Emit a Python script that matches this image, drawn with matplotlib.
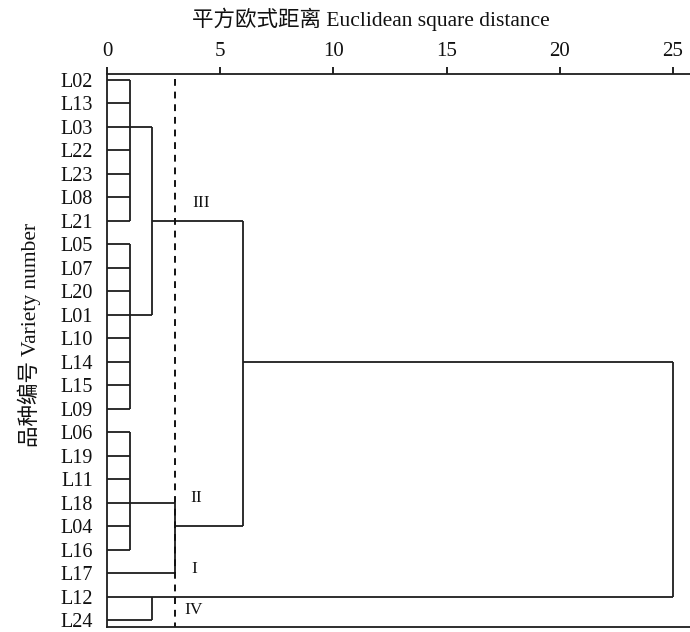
import matplotlib
matplotlib.use("Agg")
import matplotlib.pyplot as plt

plt.rcParams['font.family'] = ['Liberation Serif', 'Noto Sans CJK SC']

# leaves, top to bottom
leaf_labels = ["L02", "L13", "L03", "L22", "L23", "L08", "L21",
               "L05", "L07", "L20", "L01", "L10", "L14", "L15", "L09",
               "L06", "L19", "L11", "L18", "L04", "L16", "L17", "L12", "L24"]

# merges: members, height, row the link leaves from
merge_members = [
    ["L02", "L13", "L03", "L22", "L23", "L08", "L21"],
    ["L05", "L07", "L20", "L01", "L10", "L14", "L15", "L09"],
    ["L06", "L19", "L11", "L18", "L04", "L16"],
    ["m0", "m1"],
    ["m2", "L17"],
    ["m3", "m4"],
    ["L12", "L24"],
    ["m5", "m6"],
]
merge_height = [1, 1, 1, 2, 3, 6, 2, 25]
merge_exit = ["L03", "L01", "L18", "L21", "L04", "L14", "L12", None]

cut_distance = 3
group_names = ["III", "II", "I", "IV"]
x_ticks = [0, 5, 10, 15, 20, 25]

fig = plt.figure(figsize=(6.9, 6.32), dpi=100)
ax = fig.add_axes([107/690, 1-627/632, 1-107/690, (627-74)/632])

row = {name: i for i, name in enumerate(leaf_labels)}
node_row = dict(row)
node_h = {name: 0 for name in leaf_labels}

lc = "#1e1e1e"
lw = 1.3
for i, members in enumerate(merge_members):
    h = merge_height[i]
    ys = []
    for m in members:
        y = node_row[m]
        ax.plot([node_h[m], h], [y, y], color=lc, lw=lw, solid_capstyle='butt')
        ys.append(y)
    ax.plot([h, h], [min(ys), max(ys)], color=lc, lw=lw, solid_capstyle='butt')
    name = "m%d" % i
    node_h[name] = h
    if merge_exit[i] is not None:
        node_row[name] = row[merge_exit[i]]

# cut line
ax.plot([cut_distance, cut_distance], [-0.05, 23.3], color="#111111", lw=1.4,
        ls=(0, (3.5, 3)))

label_pos = [(4.15, 5.25), (3.92, 17.8), (3.87, 20.8), (3.84, 22.55)]
for name, (x, y) in zip(group_names, label_pos):
    ax.text(x, y, name, fontsize=12.5, ha='center', va='center', color="#111111")

ax.set_xlim(0, 25.75)
ax.set_ylim(23.28, -0.255)
ax.xaxis.tick_top()
ax.set_xticks(x_ticks)
ax.set_xticklabels([str(t) for t in x_ticks], fontsize=15)
ax.tick_params(axis='x', direction='out', length=5, width=1.3, pad=4, colors="#111111")
ax.set_yticks(range(len(leaf_labels)))
ax.set_yticklabels(leaf_labels, fontsize=14.5)
ax.tick_params(axis='y', length=0, pad=10, colors="#111111")
ax.spines['right'].set_visible(False)
for s in ['top', 'left', 'bottom']:
    ax.spines[s].set_linewidth(1.3)
    ax.spines[s].set_color(lc)

fig.text(371/690, 1-19/632, "平方欧式距离 Euclidean square distance",
         fontsize=15.5, ha='center', va='center', color="#111111")
fig.text(29/690, 1-335/632, "品种编号 Variety number", fontsize=15.5,
         rotation=90, ha='center', va='center', color="#111111")

fig.savefig("out.png", dpi=100)
